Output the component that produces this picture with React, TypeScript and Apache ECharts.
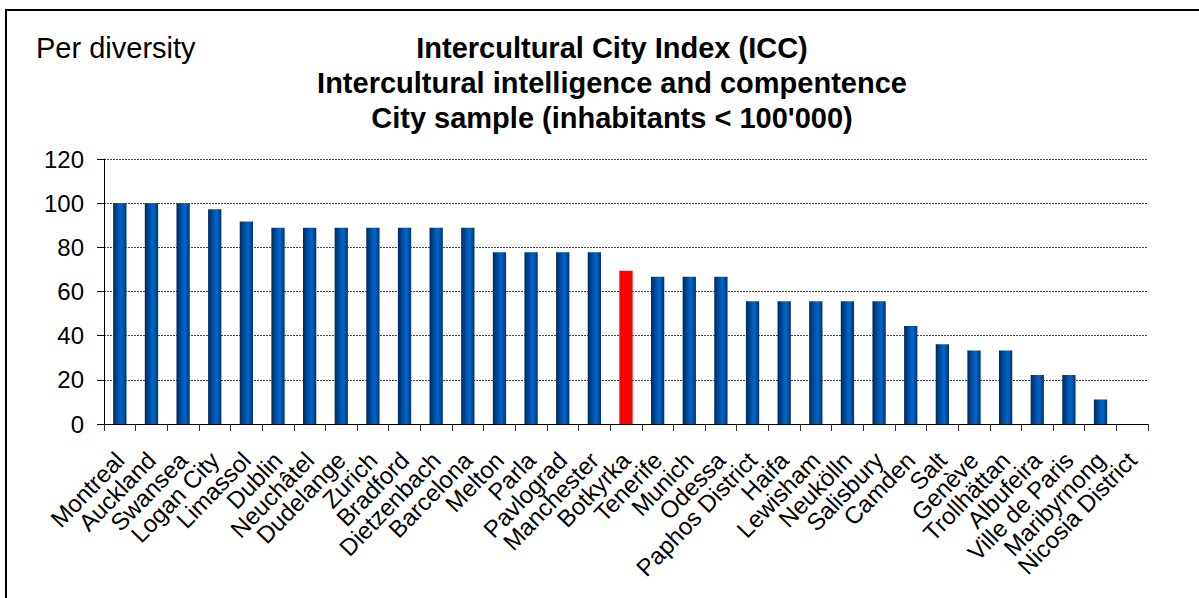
import React, { useEffect, useRef } from "react";
import * as echarts from "echarts";

// City names along the category axis
const cities: string[] = [
  "Montreal", "Auckland", "Swansea", "Logan City", "Limassol", "Dublin",
  "Neuchâtel", "Dudelange", "Zurich", "Bradford", "Dietzenbach", "Barcelona",
  "Melton", "Parla", "Pavlograd", "Manchester", "Botkyrka", "Tenerife",
  "Munich", "Odessa", "Paphos District", "Haifa", "Lewisham", "Neukölln",
  "Salisbury", "Camden", "Salt", "Genève", "Trollhättan", "Albufeira",
  "Ville de Paris", "Maribyrnong", "Nicosia District",
];

// Index score per city (0-100)
const scores: number[] = [
  100, 100, 100, 97.2, 91.7, 88.9,
  88.9, 88.9, 88.9, 88.9, 88.9, 88.9,
  77.8, 77.8, 77.8, 77.8, 69.4, 66.7,
  66.7, 66.7, 55.6, 55.6, 55.6, 55.6,
  55.6, 44.4, 36.1, 33.3, 33.3, 22.2,
  22.2, 11.1, 0,
];

// The city highlighted in red
const highlightCity = "Botkyrka";

const yTicks = { min: 0, max: 120, step: 20 };

const titleLines: string[] = [
  "Intercultural City Index (ICC)",
  "Intercultural intelligence and compentence",
  "City sample (inhabitants < 100'000)",
];
const cornerLabel = "Per diversity";

const FONT = "'Liberation Sans', Arial, Helvetica, sans-serif";

export default function App() {
  const ref = useRef<HTMLDivElement>(null);

  useEffect(() => {
    document.body.style.margin = "0";
    if (!ref.current) return;
    const chart = echarts.init(ref.current, undefined, { renderer: "svg" });

    const blueFill = new echarts.graphic.LinearGradient(0, 0, 1, 0, [
      { offset: 0, color: "#002a57" },
      { offset: 0.45, color: "#0057b5" },
      { offset: 0.65, color: "#0066cc" },
      { offset: 1, color: "#00336b" },
    ]);

    const data = scores.map((v, i) => ({
      value: v,
      itemStyle: { color: cities[i] === highlightCity ? "#ff0000" : blueFill },
    }));

    chart.setOption({
      animation: false,
      backgroundColor: "#ffffff",
      textStyle: { fontFamily: FONT },
      grid: { left: 104, right: 51, top: 159, bottom: 174, containLabel: false },
      graphic: [
        {
          type: "rect",
          shape: { x: 6, y: 10, width: 1240, height: 640 },
          style: { fill: "none", stroke: "#000000", lineWidth: 2 },
          silent: true,
        },
        {
          type: "text",
          x: 36,
          y: 48,
          style: {
            text: cornerLabel,
            font: `29px ${FONT}`,
            fill: "#000000",
            textAlign: "left",
            textVerticalAlign: "middle",
          },
        },
        {
          type: "text",
          x: 612,
          y: 30,
          style: {
            text: titleLines.join("\n"),
            font: `bold 29px ${FONT}`,
            lineHeight: 35,
            fill: "#000000",
            textAlign: "center",
            textVerticalAlign: "top",
          },
        },
      ],
      xAxis: {
        type: "category",
        data: cities,
        boundaryGap: true,
        axisLine: { show: true, lineStyle: { color: "#000000", width: 1 } },
        axisTick: { show: true, length: 7, inside: false, lineStyle: { color: "#333333" } },
        axisLabel: {
          interval: 0,
          rotate: 46,
          margin: 32,
          fontSize: 24,
          color: "#000000",
          fontFamily: FONT,
        },
        splitLine: { show: false },
      },
      yAxis: {
        type: "value",
        min: yTicks.min,
        max: yTicks.max,
        interval: yTicks.step,
        axisLine: { show: true, lineStyle: { color: "#000000", width: 1 } },
        axisTick: { show: true, length: 7, inside: false, lineStyle: { color: "#000000" } },
        axisLabel: { fontSize: 24, margin: 20, color: "#000000", fontFamily: FONT },
        splitLine: {
          show: true,
          lineStyle: { color: "#444444", type: [2, 1], width: 1 },
        },
      },
      series: [
        {
          type: "bar",
          data,
          barWidth: "42%",
        },
      ],
    });

    return () => chart.dispose();
  }, []);

  return (
    <div
      ref={ref}
      style={{ position: "absolute", left: 0, top: 0, width: 1199, height: 598 }}
    />
  );
}
